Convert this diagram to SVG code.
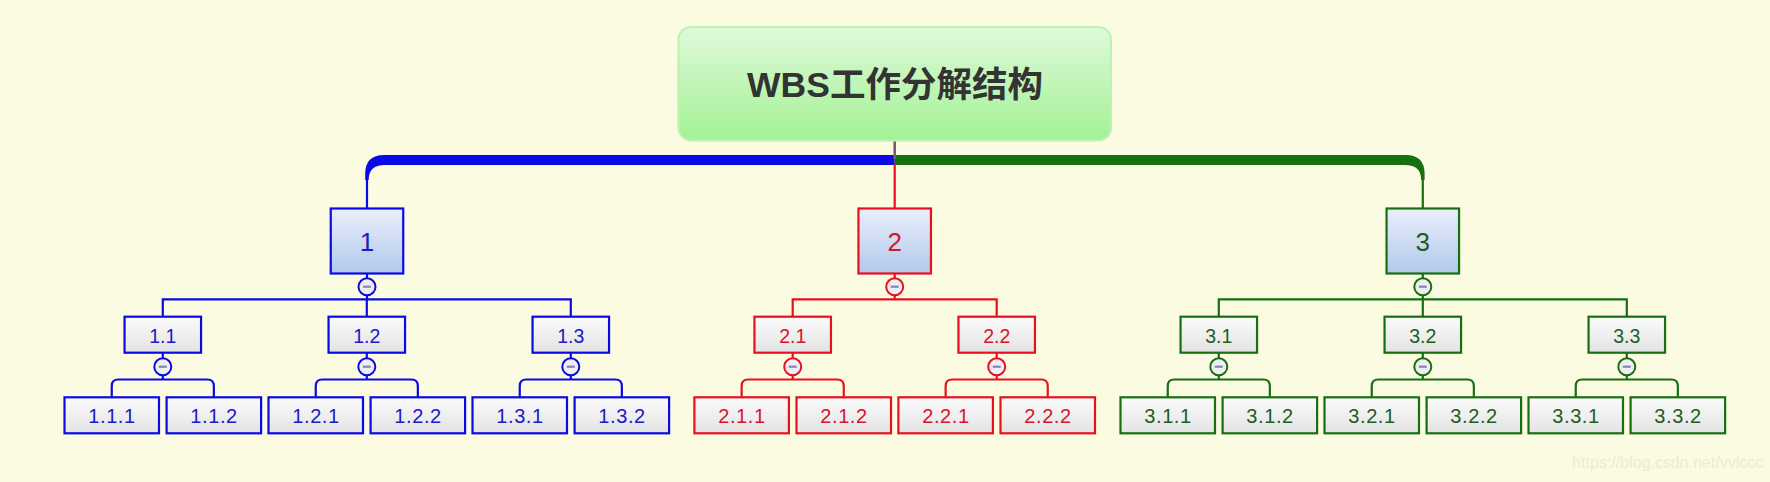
<svg xmlns="http://www.w3.org/2000/svg" width="1770" height="482" viewBox="0 0 1770 482">
<defs>
<linearGradient id="gRoot" x1="0" y1="0" x2="0" y2="1"><stop offset="0" stop-color="#e0f9da"/><stop offset="1" stop-color="#a2f294"/></linearGradient>
<linearGradient id="gL1" x1="0" y1="0" x2="0" y2="1"><stop offset="0" stop-color="#e9effb"/><stop offset="1" stop-color="#b3c8eb"/></linearGradient>
<linearGradient id="gLeaf" x1="0" y1="0" x2="0" y2="1"><stop offset="0" stop-color="#fbfbfb"/><stop offset="1" stop-color="#e3e3e3"/></linearGradient>
</defs>
<style>
text{font-family:"Liberation Sans",Arial,"Noto Sans CJK SC",sans-serif;text-anchor:middle}
.title{font-size:35.5px;font-weight:bold;fill:#333}
.t1{font-size:26px}
.t2{font-size:19.5px}
.t3{font-size:20px;letter-spacing:0.6px}
.bl rect,.bl circle{stroke:#0a0ae6}
.rd rect,.rd circle{stroke:#e8101e}
.gr rect,.gr circle{stroke:#16700f}
.bl text{fill:#1a1ac8}
.rd text{fill:#d8142c}
.gr text{fill:#1d5e1d}
rect{stroke-width:2.2}
.l1{fill:url(#gL1)}
.lf{fill:url(#gLeaf)}
circle{fill:#eeeef4;stroke-width:2}
.m{stroke:#8484b4;stroke-width:2.2}
.cb{stroke:#0a0ae6;stroke-width:2.2;fill:none}
.cr{stroke:#e8101e;stroke-width:2.2;fill:none}
.cg{stroke:#16700f;stroke-width:2.2;fill:none}
.wm{font-size:16px;fill:#ebebdc;text-anchor:start}
</style>
<rect x="0" y="0" width="1770" height="482" fill="#fafbe1"/>

<g id="connectors">
<path d="M365.2,180 L365.2,174 Q365.2,155 384,155 L894.7,155 L894.7,165 L385,165 Q368.6,165 368.6,180 Z" fill="#0a0ae6"/>
<line x1="367" y1="178" x2="367" y2="208.5" class="cb"/>
<path d="M1424.6,180 L1424.6,174 Q1424.6,155 1405.8,155 L894.7,155 L894.7,165 L1404.8,165 Q1421.2,165 1421.2,180 Z" fill="#16700f"/>
<line x1="1422.8" y1="178" x2="1422.8" y2="208.5" class="cg"/>
<line x1="894.7" y1="164" x2="894.7" y2="208.5" class="cr"/>
<line x1="894.7" y1="140" x2="894.7" y2="159" stroke="#7a5c6c" stroke-width="2.6"/>

<path class="cb" d="M367,273.5 V278.2 M367,295.2 V299.3 M162.8,316.7 V299.3 H570.8 V316.7 M366.8,299.3 V316.7"/>
<path class="cr" d="M894.7,273.5 V278.2 M894.7,295.2 V299.3 M792.7,316.7 V299.3 H996.7 V316.7"/>
<path class="cg" d="M1422.8,273.5 V278.2 M1422.8,295.2 V299.3 M1218.8,316.7 V299.3 H1626.8 V316.7 M1422.8,299.3 V316.7"/>

<path class="cb" d="M162.8,352.7 V358.2 M162.8,375.2 V379.5 M111.75,397.3 V386 Q111.75,379.5 118.25,379.5 H207.35 Q213.85,379.5 213.85,386 V397.3"/>
<path class="cb" d="M366.8,352.7 V358.2 M366.8,375.2 V379.5 M315.75,397.3 V386 Q315.75,379.5 322.25,379.5 H411.35 Q417.85,379.5 417.85,386 V397.3"/>
<path class="cb" d="M570.8,352.7 V358.2 M570.8,375.2 V379.5 M519.75,397.3 V386 Q519.75,379.5 526.25,379.5 H615.35 Q621.85,379.5 621.85,386 V397.3"/>
<path class="cr" d="M792.7,352.7 V358.2 M792.7,375.2 V379.5 M741.65,397.3 V386 Q741.65,379.5 748.15,379.5 H837.25 Q843.75,379.5 843.75,386 V397.3"/>
<path class="cr" d="M996.7,352.7 V358.2 M996.7,375.2 V379.5 M945.65,397.3 V386 Q945.65,379.5 952.15,379.5 H1041.25 Q1047.75,379.5 1047.75,386 V397.3"/>
<path class="cg" d="M1218.8,352.7 V358.2 M1218.8,375.2 V379.5 M1167.75,397.3 V386 Q1167.75,379.5 1174.25,379.5 H1263.35 Q1269.85,379.5 1269.85,386 V397.3"/>
<path class="cg" d="M1422.8,352.7 V358.2 M1422.8,375.2 V379.5 M1371.75,397.3 V386 Q1371.75,379.5 1378.25,379.5 H1467.35 Q1473.85,379.5 1473.85,386 V397.3"/>
<path class="cg" d="M1626.8,352.7 V358.2 M1626.8,375.2 V379.5 M1575.75,397.3 V386 Q1575.75,379.5 1582.25,379.5 H1671.35 Q1677.85,379.5 1677.85,386 V397.3"/>
</g>

<g id="root">
<rect x="678.5" y="27" width="432.5" height="113.5" rx="13" fill="url(#gRoot)" stroke="#bdf2b2" stroke-width="2"/>
<text x="895" y="97" class="title">WBS工作分解结构</text>
</g>

<g id="n1" class="bl"><rect x="330.75" y="208.5" width="72.5" height="65" class="l1"/><text x="367" y="251" class="t1">1</text><circle cx="367" cy="286.7" r="8.5"/><line x1="363" y1="286.7" x2="371" y2="286.7" class="m"/></g>
<g id="n2" class="rd"><rect x="858.45" y="208.5" width="72.5" height="65" class="l1"/><text x="894.7" y="251" class="t1">2</text><circle cx="894.7" cy="286.7" r="8.5"/><line x1="890.7" y1="286.7" x2="898.7" y2="286.7" class="m"/></g>
<g id="n3" class="gr"><rect x="1386.55" y="208.5" width="72.5" height="65" class="l1"/><text x="1422.8" y="251" class="t1">3</text><circle cx="1422.8" cy="286.7" r="8.5"/><line x1="1418.8" y1="286.7" x2="1426.8" y2="286.7" class="m"/></g>

<g id="n1-1" class="bl"><rect x="124.55" y="316.7" width="76.5" height="36" class="lf"/><text x="162.8" y="343" class="t2">1.1</text><circle cx="162.8" cy="366.7" r="8.5"/><line x1="158.8" y1="366.7" x2="166.8" y2="366.7" class="m"/></g>
<g id="n1-2" class="bl"><rect x="328.55" y="316.7" width="76.5" height="36" class="lf"/><text x="366.8" y="343" class="t2">1.2</text><circle cx="366.8" cy="366.7" r="8.5"/><line x1="362.8" y1="366.7" x2="370.8" y2="366.7" class="m"/></g>
<g id="n1-3" class="bl"><rect x="532.55" y="316.7" width="76.5" height="36" class="lf"/><text x="570.8" y="343" class="t2">1.3</text><circle cx="570.8" cy="366.7" r="8.5"/><line x1="566.8" y1="366.7" x2="574.8" y2="366.7" class="m"/></g>
<g id="n2-1" class="rd"><rect x="754.45" y="316.7" width="76.5" height="36" class="lf"/><text x="792.7" y="343" class="t2">2.1</text><circle cx="792.7" cy="366.7" r="8.5"/><line x1="788.7" y1="366.7" x2="796.7" y2="366.7" class="m"/></g>
<g id="n2-2" class="rd"><rect x="958.45" y="316.7" width="76.5" height="36" class="lf"/><text x="996.7" y="343" class="t2">2.2</text><circle cx="996.7" cy="366.7" r="8.5"/><line x1="992.7" y1="366.7" x2="1000.7" y2="366.7" class="m"/></g>
<g id="n3-1" class="gr"><rect x="1180.55" y="316.7" width="76.5" height="36" class="lf"/><text x="1218.8" y="343" class="t2">3.1</text><circle cx="1218.8" cy="366.7" r="8.5"/><line x1="1214.8" y1="366.7" x2="1222.8" y2="366.7" class="m"/></g>
<g id="n3-2" class="gr"><rect x="1384.55" y="316.7" width="76.5" height="36" class="lf"/><text x="1422.8" y="343" class="t2">3.2</text><circle cx="1422.8" cy="366.7" r="8.5"/><line x1="1418.8" y1="366.7" x2="1426.8" y2="366.7" class="m"/></g>
<g id="n3-3" class="gr"><rect x="1588.55" y="316.7" width="76.5" height="36" class="lf"/><text x="1626.8" y="343" class="t2">3.3</text><circle cx="1626.8" cy="366.7" r="8.5"/><line x1="1622.8" y1="366.7" x2="1630.8" y2="366.7" class="m"/></g>

<g id="n1-1-1" class="bl"><rect x="64.5" y="397.3" width="94.5" height="36" class="lf"/><text x="112" y="422.7" class="t3">1.1.1</text></g>
<g id="n1-1-2" class="bl"><rect x="166.6" y="397.3" width="94.5" height="36" class="lf"/><text x="214.1" y="422.7" class="t3">1.1.2</text></g>
<g id="n1-2-1" class="bl"><rect x="268.5" y="397.3" width="94.5" height="36" class="lf"/><text x="316" y="422.7" class="t3">1.2.1</text></g>
<g id="n1-2-2" class="bl"><rect x="370.6" y="397.3" width="94.5" height="36" class="lf"/><text x="418.1" y="422.7" class="t3">1.2.2</text></g>
<g id="n1-3-1" class="bl"><rect x="472.5" y="397.3" width="94.5" height="36" class="lf"/><text x="520" y="422.7" class="t3">1.3.1</text></g>
<g id="n1-3-2" class="bl"><rect x="574.6" y="397.3" width="94.5" height="36" class="lf"/><text x="622.1" y="422.7" class="t3">1.3.2</text></g>
<g id="n2-1-1" class="rd"><rect x="694.4" y="397.3" width="94.5" height="36" class="lf"/><text x="741.9" y="422.7" class="t3">2.1.1</text></g>
<g id="n2-1-2" class="rd"><rect x="796.5" y="397.3" width="94.5" height="36" class="lf"/><text x="844" y="422.7" class="t3">2.1.2</text></g>
<g id="n2-2-1" class="rd"><rect x="898.4" y="397.3" width="94.5" height="36" class="lf"/><text x="945.9" y="422.7" class="t3">2.2.1</text></g>
<g id="n2-2-2" class="rd"><rect x="1000.5" y="397.3" width="94.5" height="36" class="lf"/><text x="1048" y="422.7" class="t3">2.2.2</text></g>
<g id="n3-1-1" class="gr"><rect x="1120.5" y="397.3" width="94.5" height="36" class="lf"/><text x="1168" y="422.7" class="t3">3.1.1</text></g>
<g id="n3-1-2" class="gr"><rect x="1222.6" y="397.3" width="94.5" height="36" class="lf"/><text x="1270.1" y="422.7" class="t3">3.1.2</text></g>
<g id="n3-2-1" class="gr"><rect x="1324.5" y="397.3" width="94.5" height="36" class="lf"/><text x="1372" y="422.7" class="t3">3.2.1</text></g>
<g id="n3-2-2" class="gr"><rect x="1426.6" y="397.3" width="94.5" height="36" class="lf"/><text x="1474.1" y="422.7" class="t3">3.2.2</text></g>
<g id="n3-3-1" class="gr"><rect x="1528.5" y="397.3" width="94.5" height="36" class="lf"/><text x="1576" y="422.7" class="t3">3.3.1</text></g>
<g id="n3-3-2" class="gr"><rect x="1630.6" y="397.3" width="94.5" height="36" class="lf"/><text x="1678.1" y="422.7" class="t3">3.3.2</text></g>

<text x="1572" y="468" class="wm">https://blog.csdn.net/vvlccc</text>
</svg>
